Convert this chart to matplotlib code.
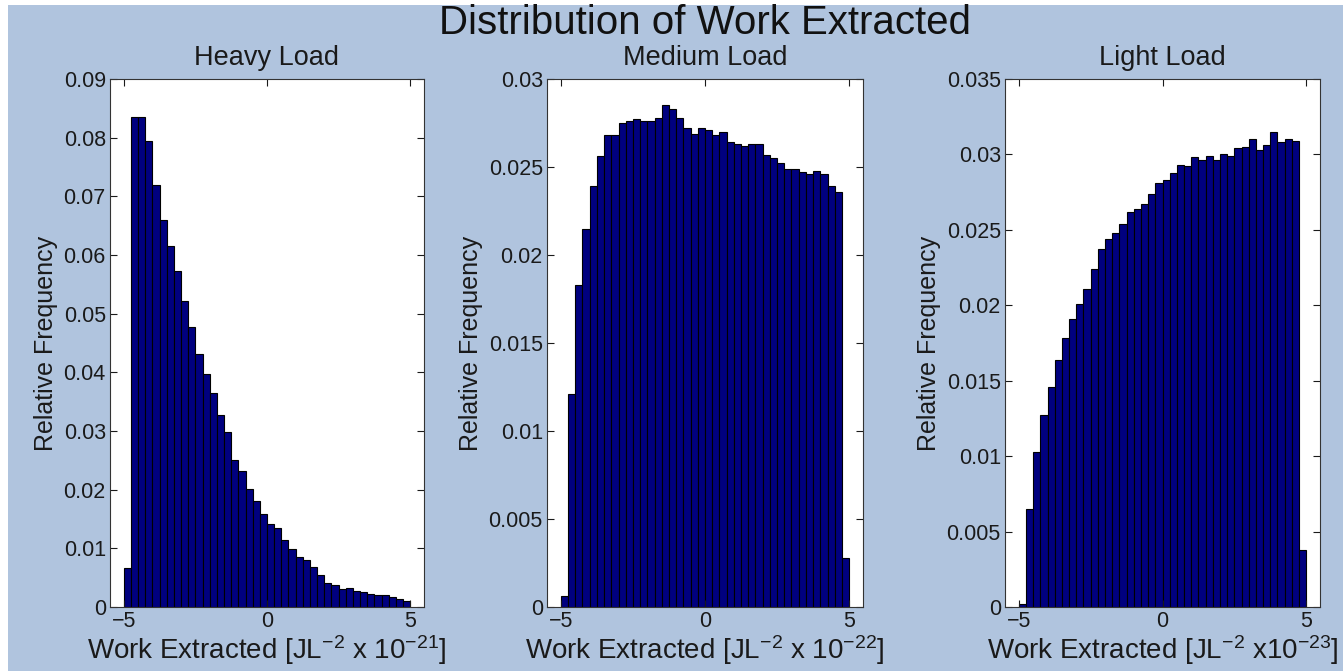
import numpy as np
import matplotlib
matplotlib.use("Agg")
import matplotlib.pyplot as plt
from matplotlib.patches import Rectangle

plt.rcParams["font.family"] = ["Liberation Sans", "DejaVu Sans"]
plt.rcParams["mathtext.fontset"] = "custom"
plt.rcParams["mathtext.rm"] = "Liberation Sans"
plt.rcParams["mathtext.default"] = "regular"

# 40 bins of width 0.25 from -5 to 5
bin_edges = np.linspace(-5, 5, 41)

heavy = [0.0066, 0.0835, 0.0835, 0.0795, 0.0719, 0.0660, 0.0616, 0.0572, 0.0521, 0.0478,
         0.0432, 0.0398, 0.0364, 0.0327, 0.0298, 0.0251, 0.0231, 0.0201, 0.0180, 0.0158,
         0.0141, 0.0134, 0.0114, 0.0099, 0.0085, 0.0080, 0.0069, 0.0055, 0.0041, 0.0038,
         0.0031, 0.0033, 0.0027, 0.0025, 0.0022, 0.0020, 0.0020, 0.0017, 0.0014, 0.0011]

medium = [0.0006, 0.0121, 0.0183, 0.0215, 0.0239, 0.0256, 0.0268, 0.0268, 0.0275, 0.0276,
          0.0277, 0.0276, 0.0276, 0.0278, 0.0285, 0.0283, 0.0278, 0.0272, 0.0269, 0.0272,
          0.0271, 0.0268, 0.0270, 0.0264, 0.0263, 0.0262, 0.0263, 0.0263, 0.0257, 0.0255,
          0.0252, 0.0249, 0.0249, 0.0247, 0.0246, 0.0248, 0.0246, 0.0239, 0.0236, 0.0028]

light = [0.0002, 0.0065, 0.0103, 0.0127, 0.0146, 0.0164, 0.0178, 0.0191, 0.0201, 0.0211,
         0.0224, 0.0237, 0.0244, 0.0248, 0.0254, 0.0262, 0.0264, 0.0267, 0.0274, 0.0281,
         0.0283, 0.0288, 0.0293, 0.0292, 0.0298, 0.0296, 0.0299, 0.0296, 0.0300, 0.0299,
         0.0304, 0.0305, 0.0310, 0.0303, 0.0306, 0.0315, 0.0308, 0.0310, 0.0309, 0.0038]

titles = ["Heavy Load", "Medium Load", "Light Load"]
xlabels = [r"Work Extracted [JL$^{-2}$ x 10$^{-21}$]",
           r"Work Extracted [JL$^{-2}$ x 10$^{-22}$]",
           r"Work Extracted [JL$^{-2}$ x10$^{-23}$]"]
yticks = [np.arange(0, 0.091, 0.01), np.arange(0, 0.0301, 0.005), np.arange(0, 0.0351, 0.005)]
ytick_labels = [["0", "0.01", "0.02", "0.03", "0.04", "0.05", "0.06", "0.07", "0.08", "0.09"],
                ["0", "0.005", "0.01", "0.015", "0.02", "0.025", "0.03"],
                ["0", "0.005", "0.01", "0.015", "0.02", "0.025", "0.03", "0.035"]]
ylims = [0.09, 0.03, 0.035]

bg = "#B0C4DE"
W, H = 1343, 671
fig = plt.figure(figsize=(W / 100, H / 100), dpi=100, facecolor="white")
fig.patches.append(Rectangle((8 / W, 0), 1, 1 - 5 / H, transform=fig.transFigure,
                             facecolor=bg, edgecolor="none", zorder=-10))

# axes boxes in pixels: left, right
boxes = [(110, 424), (547, 863), (1005, 1320)]
top, bottom = 79, 607
txt = "#1a1a1a"

for i, data in enumerate([heavy, medium, light]):
    l, r = boxes[i]
    ax = fig.add_axes([l / W, 1 - bottom / H, (r - l) / W, (bottom - top) / H])
    ax.bar(bin_edges[:-1], data, width=0.25, align="edge",
           color="#00007F", edgecolor="black", linewidth=0.8)
    ax.set_xlim(-5.48, 5.48)
    ax.set_ylim(0, ylims[i])
    ax.set_xticks([-5, 0, 5])
    ax.set_xticklabels(["\u22125", "0", "5"])
    ax.set_yticks(yticks[i])
    ax.set_yticklabels(ytick_labels[i])
    ax.tick_params(direction="in", top=True, right=True, length=5, labelsize=15.5,
                   pad=3, colors=txt)
    ax.set_title(titles[i], fontsize=19.5, pad=10, color=txt)
    ax.set_xlabel(xlabels[i], fontsize=20, labelpad=1, color=txt)
    ax.set_ylabel("Relative Frequency", fontsize=18, labelpad=4, color=txt)
    for s in ax.spines.values():
        s.set_color("#333333")

fig.text(705 / W, 1 - 23 / H, "Distribution of Work Extracted", ha="center", va="center",
         fontsize=29, color="#111111")

fig.savefig("out.png", dpi=100, facecolor=fig.get_facecolor())
